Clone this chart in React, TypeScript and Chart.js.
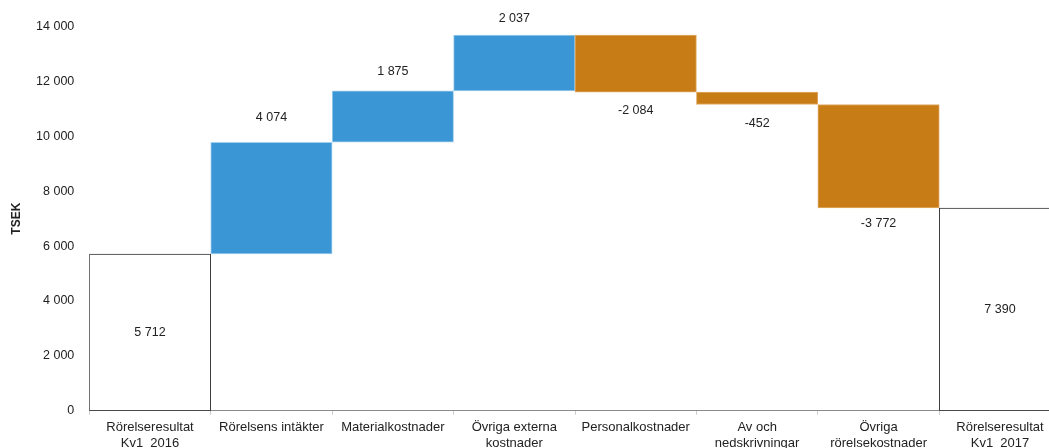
import React, { useEffect, useRef } from "react";
import { Chart, registerables } from "chart.js";

Chart.register(...registerables);

// Operating result bridge, Q1 2016 -> Q1 2017 (TSEK)
const categories: (string | string[])[] = [
  ["Rörelseresultat", "Kv1  2016"],
  "Rörelsens intäkter",
  "Materialkostnader",
  ["Övriga externa", "kostnader"],
  "Personalkostnader",
  ["Av och", "nedskrivningar"],
  ["Övriga", "rörelsekostnader"],
  ["Rörelseresultat", "Kv1  2017"],
];
const startTotal = 5712;
const changes = [4074, 1875, 2037, -2084, -452, -3772];
const endTotal = 7390;
const yTicks = [0, 2000, 4000, 6000, 8000, 10000, 12000, 14000];

// Styling
const FONT = "'Liberation Sans', Arial, Helvetica, sans-serif";
const BLUE = "#3a96d4";
const BLUE_EDGE = "#a3cfee";
const ORANGE = "#c87c16";
const ORANGE_EDGE = "#e2ab66";
const TEXT = "#222222";
// vertical gap between a change bar and its value label (px)
const labelGaps = [0, 25, 19, 16, 18, 19, 16, 0];

const CANVAS_W = 1075;
const CANVAS_H = 470;
const PLOT_LEFT = 89.3;
const PLOT_TOP = 26.7;
const PLOT_BOTTOM = 410.7;
const PLOT_RIGHT = 1060.7;

function fmt(v: number): string {
  const s = Math.abs(Math.round(v))
    .toString()
    .replace(/\B(?=(\d{3})+(?!\d))/g, " ");
  return (v < 0 ? "-" : "") + s;
}

// floating [from, to] ranges for every bar of the bridge
function buildRanges() {
  const ranges: [number, number][] = [[0, startTotal]];
  let level = startTotal;
  for (const c of changes) {
    ranges.push([level, level + c]);
    level += c;
  }
  ranges.push([0, endTotal]);
  return ranges;
}

const values = [startTotal, ...changes, endTotal];

export default function App() {
  const canvasRef = useRef<HTMLCanvasElement | null>(null);

  useEffect(() => {
    const canvas = canvasRef.current;
    if (!canvas) return;
    const last = values.length - 1;
    const isTotal = (i: number) => i === 0 || i === last;

    const labelPlugin = {
      id: "bridgeLabels",
      afterDatasetsDraw(chart: any) {
        const ctx = chart.ctx;
        const meta = chart.getDatasetMeta(0);
        ctx.save();
        ctx.font = `12.5px ${FONT}`;
        ctx.fillStyle = TEXT;
        ctx.textAlign = "center";
        ctx.textBaseline = "middle";
        meta.data.forEach((bar: any, i: number) => {
          const v = values[i];
          const top = Math.min(bar.y, bar.base);
          const bottom = Math.max(bar.y, bar.base);
          let y: number;
          if (isTotal(i)) y = (top + bottom) / 2;
          else if (v >= 0) y = top - labelGaps[i];
          else y = bottom + labelGaps[i];
          ctx.fillText(fmt(v), bar.x, y);
        });
        ctx.restore();
      },
    };

    const chart = new Chart(canvas, {
      type: "bar",
      data: {
        labels: categories,
        datasets: [
          {
            data: buildRanges() as any,
            backgroundColor: values.map((v, i) =>
              isTotal(i) ? "#ffffff" : v >= 0 ? BLUE : ORANGE
            ),
            borderColor: values.map((v, i) =>
              isTotal(i) ? "#333333" : v >= 0 ? BLUE_EDGE : ORANGE_EDGE
            ),
            borderWidth: 1,
            borderSkipped: false,
            barPercentage: 1,
            categoryPercentage: 1,
          },
        ],
      },
      options: {
        animation: false,
        responsive: false,
        maintainAspectRatio: false,
        devicePixelRatio: 1,
        layout: {
          padding: {
            top: PLOT_TOP,
            left: 0,
            right: CANVAS_W - PLOT_RIGHT,
            bottom: 0,
          },
        },
        plugins: {
          legend: { display: false },
          tooltip: { enabled: false },
        },
        scales: {
          x: {
            grid: {
              display: true,
              offset: true,
              drawOnChartArea: false,
              drawTicks: true,
              tickLength: 4,
              color: "#cccccc",
            },
            border: { display: true, color: "#8a8a8a", width: 1 },
            ticks: {
              autoSkip: false,
              maxRotation: 0,
              minRotation: 0,
              padding: 5,
              color: TEXT,
              font: { family: FONT, size: 13, lineHeight: 1.2 },
            },
            afterFit(scale: any) {
              scale.height = CANVAS_H - PLOT_BOTTOM;
            },
          },
          y: {
            min: 0,
            max: 14000,
            afterBuildTicks(scale: any) {
              scale.ticks = yTicks.map((value) => ({ value }));
            },
            grid: { display: false, drawTicks: false },
            border: { display: false },
            ticks: {
              padding: 15,
              color: TEXT,
              font: { family: FONT, size: 12.5 },
              callback: (v: any) => fmt(Number(v)),
            },
            title: {
              display: true,
              text: "TSEK",
              color: TEXT,
              font: { family: FONT, size: 12, weight: "bold" },
              padding: { top: 9, bottom: 0 },
            },
            afterFit(scale: any) {
              scale.width = PLOT_LEFT;
            },
          },
        },
      },
      plugins: [labelPlugin],
    });

    return () => chart.destroy();
  }, []);

  return (
    <div
      style={{
        position: "fixed",
        left: 0,
        top: 0,
        width: 1049,
        height: 448,
        overflow: "hidden",
        background: "#ffffff",
      }}
    >
      <canvas
        ref={canvasRef}
        width={CANVAS_W}
        height={CANVAS_H}
        style={{ display: "block", width: CANVAS_W, height: CANVAS_H }}
      />
    </div>
  );
}
